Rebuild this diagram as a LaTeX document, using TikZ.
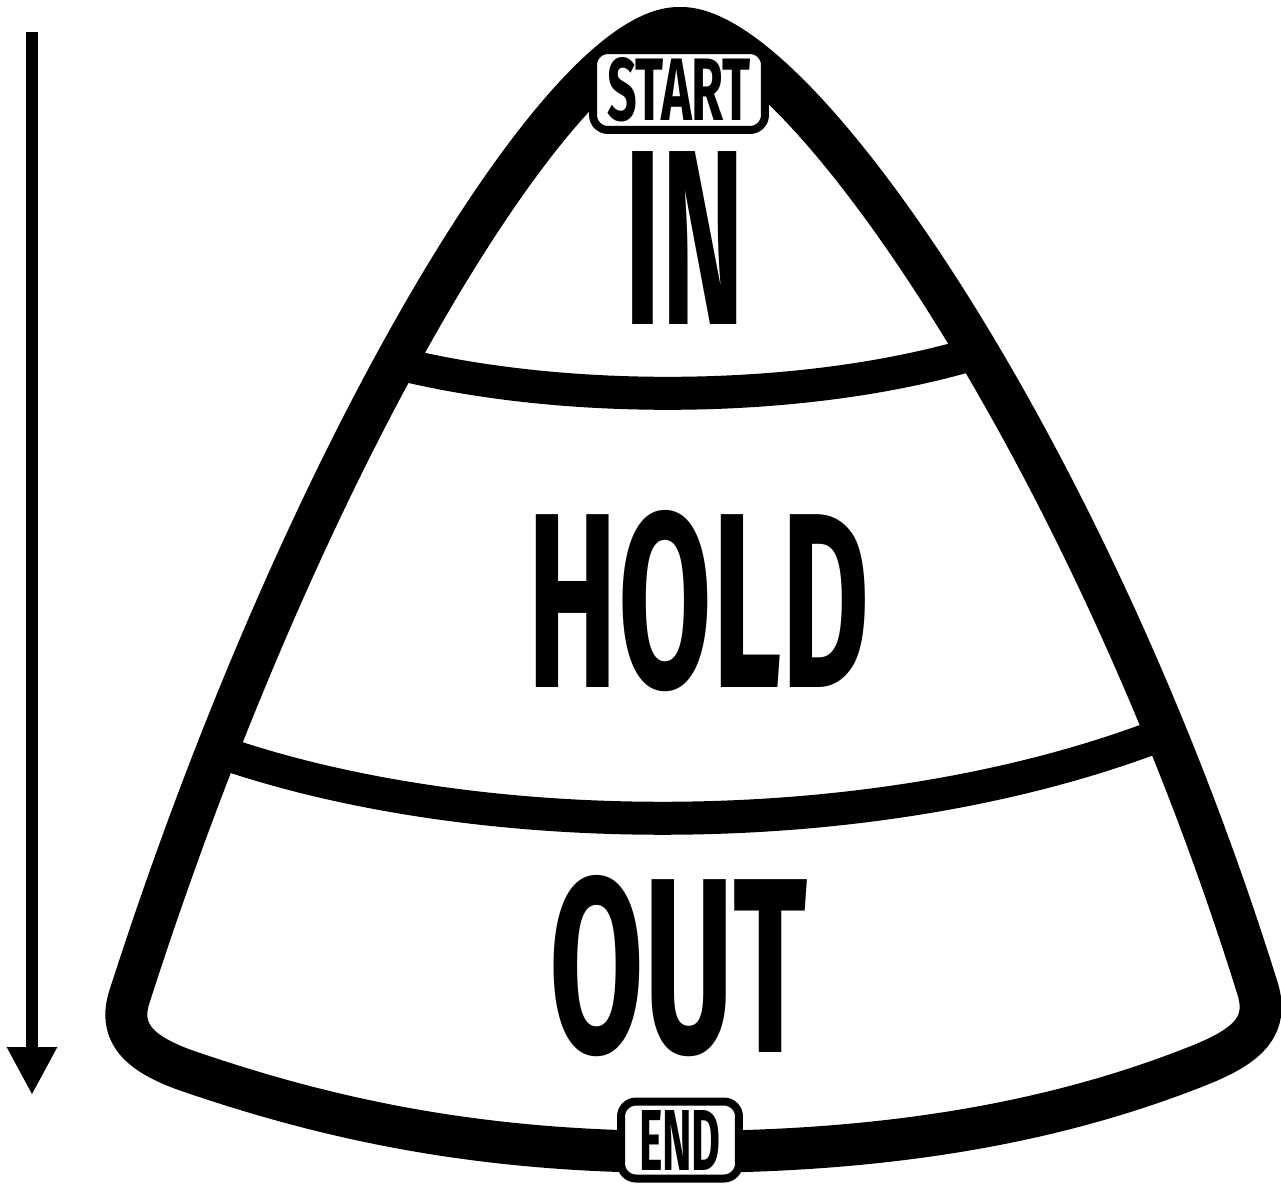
\documentclass[tikz,border=0pt]{standalone}
\usepackage{fontspec}
\setmainfont{Fira Sans}
\usetikzlibrary{arrows.meta}

\tikzset{
  outline/.style={line width=0.84cm, line join=round},
  band/.style={line width=0.66cm},
  tag/.style={draw, fill=white, line width=0.16cm, rounded corners=0.3cm, inner sep=0pt, font=\bfseries},
  word/.style={inner sep=0pt, font=\bfseries}
}

\begin{document}
\begin{tikzpicture}[x=0.02cm, y=-0.02cm]
  \useasboundingbox (0,0) rectangle (1281,1184);
  \clip (0,0) rectangle (1281,1184);

  % direction arrow
  \coordinate (arrowtop) at (32,32);
  \coordinate (arrowtip) at (32,1095);
  \draw[line width=0.24cm, -{Triangle[length=0.96cm, width=0.94cm]}] (arrowtop) -- (arrowtip);

  % bands
  \draw[band] (392,362) .. controls (560,405) and (800,405) .. (973,354);
  \draw[band] (220,752) .. controls (480,842) and (880,845) .. (1168,732);

  % candy corn
  \draw[outline] (680,1152) .. controls (480,1152) and (330,1120) .. (185,1070)
    .. controls (135,1052) and (118,1030) .. (130,995)
    .. controls (305,450) and (565,25) .. (680,28)
    .. controls (795,25) and (1090,450) .. (1258,990)
    .. controls (1268,1025) and (1250,1045) .. (1200,1065)
    .. controls (1050,1125) and (880,1152) .. (680,1152) -- cycle;

  % words
  \node[word] (in) at (685,238) {\resizebox{2.4cm}{3.46cm}{IN}};
  \node[word] (hold) at (699,601) {\resizebox{6.84cm}{3.54cm}{HOLD}};
  \node[word] (out) at (679,966) {\resizebox{5.16cm}{3.54cm}{OUT}};

  % start and end tags
  \node[tag, minimum width=3.44cm, minimum height=1.6cm] (start) at (679,90)
    {\resizebox{2.88cm}{1.26cm}{START}};
  \node[tag, minimum width=2.36cm, minimum height=1.54cm] (stop) at (680,1140)
    {\resizebox{1.64cm}{1.2cm}{END}};
\end{tikzpicture}
\end{document}
